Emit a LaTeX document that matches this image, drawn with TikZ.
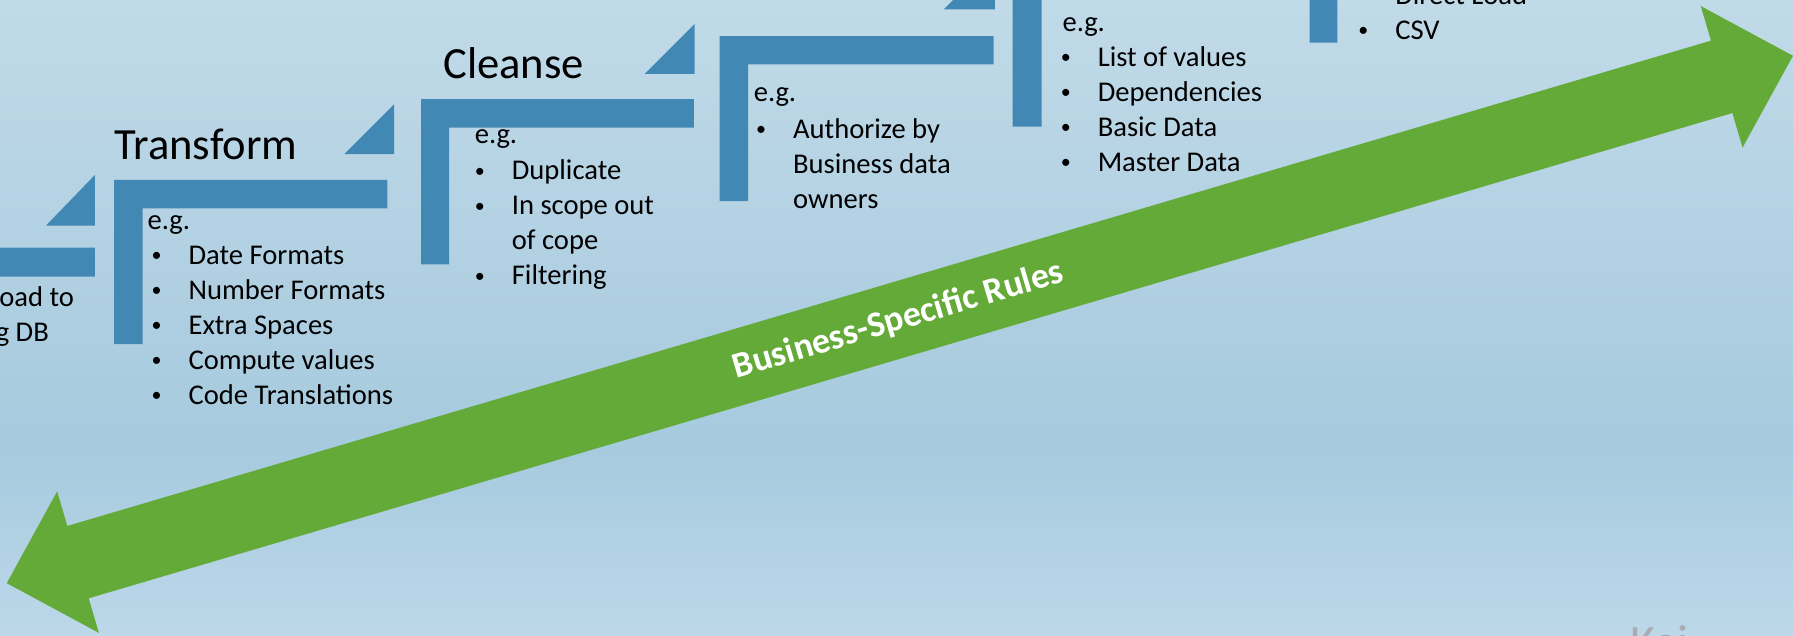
\documentclass[tikz,border=0pt]{standalone}
\usepackage{graphicx}
\usepackage{fontspec}
\setmainfont{Carlito}
\definecolor{bgtop}{HTML}{C1DAE8}
\definecolor{bgmid}{HTML}{A6CADE}
\definecolor{bgbot}{HTML}{BCD8E9}
\definecolor{stepblue}{HTML}{4288B5}
\definecolor{arrowgreen}{HTML}{63AA39}
\definecolor{wmgrey}{HTML}{A9ACB0}
\newcommand\bul[1]{\makebox[0pt][r]{\makebox[56pt][c]{\raisebox{2.5pt}{\scalebox{0.7}{\textbullet}}}}#1}
\begin{document}
\begin{tikzpicture}[x=1pt,y=-1pt,
  stepshape/.style={fill=stepblue, draw=none},
  body/.style={anchor=base west, inner sep=0pt, font=\fontsize{25}{30}\selectfont, text=black},
  steptitle/.style={anchor=base west, inner sep=0pt, font=\fontsize{39}{45}\selectfont, text=black},
  rulestext/.style={anchor=base, inner sep=0pt, rotate=16.45, text=white, font=\bfseries\fontsize{31.5}{36}\selectfont},
  watermark/.style={anchor=base west, inner sep=0pt, text=wmgrey, font=\fontsize{42}{48}\selectfont}]
\useasboundingbox (0,0) rectangle (1568,556);
\clip (0,0) rectangle (1568,556);
% background
\shade[top color=bgtop, bottom color=bgmid] (0,0) rectangle (1568,390);
\shade[top color=bgmid, bottom color=bgbot] (0,389.5) rectangle (1568,556);

% step A (cut off at the left)
\fill[stepshape] (-156,216.6) -- (83,216.6) -- (83,242) -- (-131,242) -- (-131,360) -- (-156,360) -- cycle;
\fill[stepshape] (40.2,197.3) -- (83,197.3) -- (83,153) -- cycle;
% step B
\fill[stepshape] (99.7,157.4) -- (338.7,157.4) -- (338.7,182.2) -- (124.8,182.2) -- (124.8,301) -- (99.7,301) -- cycle;
\fill[stepshape] (301.2,134.7) -- (344.7,134.7) -- (344.7,91.2) -- cycle;
% step C
\fill[stepshape] (368.2,86.6) -- (606.7,86.6) -- (606.7,111.6) -- (392.7,111.6) -- (392.7,231.2) -- (368.2,231.2) -- cycle;
\fill[stepshape] (563.7,64.7) -- (607.4,64.7) -- (607.4,21) -- cycle;
% step D
\fill[stepshape] (629.3,31.5) -- (869,31.5) -- (869,56.2) -- (654.3,56.2) -- (654.3,175.8) -- (629.3,175.8) -- cycle;
\fill[stepshape] (825.3,8.2) -- (870,8.2) -- (870,-36) -- cycle;
% step E
\fill[stepshape] (885.5,-33.5) -- (1124.5,-33.5) -- (1124.5,-8.7) -- (910.8,-8.7) -- (910.8,110.8) -- (885.5,110.8) -- cycle;
% step F
\fill[stepshape] (1145.2,-107) -- (1384,-107) -- (1384,-82) -- (1169.5,-82) -- (1169.5,37.3) -- (1145.2,37.3) -- cycle;

% green double arrow
\begin{scope}[shift={(5.9,510)}, rotate=16.45]
\fill[arrowgreen] (0,0) -- (65,64.5) -- (65,33) -- (1563.8,33) -- (1563.8,64.5) -- (1628.8,0)
  -- (1563.8,-64.5) -- (1563.8,-33) -- (65,-33) -- (65,-64.5) -- cycle;
\end{scope}
\node[rulestext] (rules) at (788,288.5) {Business-Specific Rules};

% step A text
\node[body] (a1) at (-66,268.2) {Download to};
\node[body] (a2) at (-66,298.8) {Staging DB};

% step B text
\node[steptitle] (bt) at (100,139.3) {Transform};
\node[body] (beg) at (129,201) {e.g.};
\foreach \t [count=\i] in {Date Formats, Number Formats, Extra Spaces, Compute values, Code Translations}
  \node[body] (b\i) at (164.7,{201+30.6*\i}) {\bul{\t}};

% step C text
\node[steptitle] (ct) at (387.5,68.5) {Cleanse};
\node[body] (ceg) at (415,125.3) {e.g.};
\node[body] (c1) at (447.4,157.4) {\bul{Duplicate}};
\node[body] (c2) at (447.4,188) {\bul{In scope out}};
\node[body] (c3) at (447.4,218.6) {of cope};
\node[body] (c4) at (447.4,249.2) {\bul{Filtering}};

% step D text
\node[body] (deg) at (659,89) {e.g.};
\node[body] (d1) at (693.4,121) {\bul{Authorize by}};
\node[body] (d2) at (693.4,151.6) {Business data};
\node[body] (d3) at (693.4,182.2) {owners};

% step E text
\node[body] (eeg) at (929,27.7) {e.g.};
\foreach \t [count=\i] in {List of values, Dependencies, Basic Data, Master Data}
  \node[body] (e\i) at (959.8,{27.7+30.6*\i}) {\bul{\t}};

% step F text
\node[body] (f1) at (1220,3.8) {\bul{Direct Load}};
\node[body] (f2) at (1220,34.4) {\bul{CSV}};

% watermark (cut off at the bottom)
\node[watermark] (wm) at (1425.5,576) {Kai};
\end{tikzpicture}
\end{document}
